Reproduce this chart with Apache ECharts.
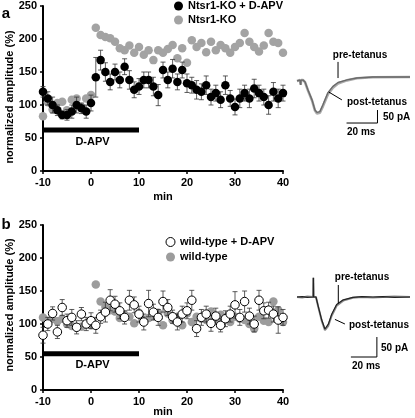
<!DOCTYPE html>
<html><head><meta charset="utf-8">
<script src="https://cdn.jsdelivr.net/npm/echarts@6/dist/echarts.min.js"></script>
<style>html,body{margin:0;padding:0;background:#fff}#c{width:415px;height:418px}</style>
</head><body><div id="c"></div>
<script>
// ---- time axis (min) ----
const minutes = [-10,-9,-8,-7,-6,-5,-4,-3,-2,-1,0,1,2,3,4,5,6,7,8,9,10,11,12,13,14,15,16,17,18,19,20,21,22,23,24,25,26,27,28,29,30,31,32,33,34,35,36,37,38,39,40];
const xTicks = [-10,0,10,20,30,40];
const yTicks = [0,50,100,150,200,250];

// ---- panel a ----
const koAPV = [120,110,100,92,85,85,90,100,95,90,103,
  142,168,150,135,150,138,158,138,123,128,
  138,138,128,115,153,138,155,135,153,133,
  130,123,120,130,112,118,108,130,110,97,
  110,118,110,125,118,112,100,120,110,118];
const koAPVErr = [8,10,12,8,6,8,10,12,8,10,12,
  30,15,14,12,12,12,12,14,12,12,
  12,12,14,16,12,12,14,12,12,14,
  12,14,12,14,12,12,12,14,12,12,
  14,12,14,14,12,12,14,14,14,12];
const ko = [83,104,93,103,105,92,108,110,97,110,115,
  217,206,203,201,196,186,183,190,179,188,
  176,183,168,183,179,185,191,171,186,164,
  198,188,194,180,196,183,191,186,179,188,
  194,209,196,188,181,190,209,196,194,179];

// ---- panel b ----
const wtAPV = [83,100,116,88,125,105,110,95,115,100,105,
  98,111,118,136,130,120,110,136,129,115,
  103,131,118,110,134,125,111,103,115,120,
  136,93,110,115,101,112,98,108,115,129,
  110,134,112,100,136,120,121,115,106,110];
const wtAPVErr = [12,10,10,10,12,10,12,10,10,10,12,
  12,10,15,16,12,12,10,15,12,12,
  12,20,12,12,16,12,10,12,12,12,
  15,12,12,12,12,12,10,12,12,20,
  12,16,12,12,15,12,12,12,20,12];
const wt = [110,105,108,104,108,100,97,95,96,100,98,
  160,134,126,121,119,109,114,111,101,117,
  106,109,112,117,98,116,106,111,98,116,
  103,111,108,106,119,106,114,110,103,111,
  108,106,100,93,111,105,103,134,121,103];

// D-APV application bar [min, %]
const apvA = [[-10,62],[10,62]];
const apvB = [[-10,55],[10,55]];

// ---- example traces (ms, pA) ----
const traceA_t    = [0,1.9,2.3,2.4,2.6,3.9,5.2,7.1,9.7,11.6,12.9,14.8,16.8,20,23.2,26.5,32.3,38.7,49,73];
const traceA_pre  = [-15,-12,-12,-30,-12,-12,-19,-50,-88,-127,-136,-133,-106,-60,-36,-21,-11,-4,0,0];
const traceA_post = [-15,-12,-12,-30,-12,-12,-20,-52,-90,-129,-140,-137,-112,-66,-41,-25,-13,-5,-1,0];
const traceB_t    = [0,4,8,12.5,12.6,12.8,13.0,14.6,16.4,19,21.5,24.1,26.7,30.5,35.6,43,50,58.5,66,75,87];
const traceB_pre  = [0,1,-1,0,48,0,-4,0,-24,-57,-80,-68,-43,-19,-7,-1,1,0,1,-1,0];
const traceB_post = [0,-1,1,0,48,0,-4,0,-25,-59,-83,-72,-47,-22,-9,-2,0,-1,0,1,0];
// scale bars: 20 ms, 50 pA
const scaleA = [[32,-177],[52,-177],[52,-127]];
const scaleB = [[41.5,-150],[61.5,-150],[61.5,-100]];
const preA = [[26.5,58],[26.5,-4]];
const postA = [[20.6,-58],[29,-88]];
const preB = [[31.8,30],[31.8,-16]];
const postB = [[29.2,-56],[36.9,-67.5]];

const FONT = "'Liberation Sans', Arial, sans-serif";
const txt = {color:'#000', fontFamily:FONT, fontWeight:'bold', fontSize:11};

const zip = (a) => minutes.map((m,i)=>[m,a[i]]);
const errData = (a,e) => minutes.map((m,i)=>[m,a[i]-e[i],a[i]+e[i]]);
const tr = (t,v) => t.map((x,i)=>[x,v[i]]);

function errSeries(xi, data){
  return {type:'custom', xAxisIndex:xi, yAxisIndex:xi, z:3, silent:true,
    encode:{x:0,y:[1,2]}, data,
    renderItem(params, api){
      const x=api.value(0), lo=api.value(1), hi=api.value(2);
      const p1=api.coord([x,hi]), p2=api.coord([x,lo]);
      const w=2.5, st={stroke:'#333',lineWidth:0.8};
      return {type:'group', children:[
        {type:'line', shape:{x1:p1[0],y1:p1[1],x2:p2[0],y2:p2[1]}, style:st},
        {type:'line', shape:{x1:p1[0]-w,y1:p1[1],x2:p1[0]+w,y2:p1[1]}, style:st},
        {type:'line', shape:{x1:p2[0]-w,y1:p2[1],x2:p2[0]+w,y2:p2[1]}, style:st}
      ]};
    }};
}
function mainX(gi){
  return {type:'value', gridIndex:gi, min:-10, max:40, interval:10,
    axisLine:{onZero:false, lineStyle:{color:'#000',width:2}}, axisTick:{length:3,lineStyle:{color:'#000',width:1.5}},
    axisLabel:Object.assign({margin:6}, txt), splitLine:{show:false}};
}
function mainY(gi){
  return {type:'value', gridIndex:gi, min:0, max:250, interval:50,
    axisLine:{show:true, onZero:false, lineStyle:{color:'#000',width:2}}, axisTick:{show:true,length:3,lineStyle:{color:'#000',width:1.5}},
    axisLabel:Object.assign({margin:6}, txt), splitLine:{show:false}};
}
function hidAx(gi,min,max){ return {type:'value', gridIndex:gi, min, max, show:false}; }
function lineS(gi, data, color, width, z){
  return {type:'line', xAxisIndex:gi, yAxisIndex:gi, data, showSymbol:false, symbol:'none',
    lineStyle:{color, width}, z: z||2, silent:true, animation:false};
}

const chart = echarts.init(document.getElementById('c'), null, {renderer:'canvas'});
chart.setOption({
  animation:false,
  backgroundColor:'#fff',
  grid:[
    {left:43, top:6, width:240, height:165, outerBoundsMode:'none'},
    {left:297, top:58.8, width:113, height:70.2, outerBoundsMode:'none'},
    {left:43, top:225, width:240, height:165, outerBoundsMode:'none'},
    {left:297, top:273, width:113, height:96, outerBoundsMode:'none'}
  ],
  xAxis:[mainX(0), hidAx(1,0,73), mainX(2), hidAx(3,0,87)],
  yAxis:[mainY(0), hidAx(1,-200,70), mainY(2), hidAx(3,-180,60)],
  legend:[
    {left:174, top:0, orient:'vertical', padding:0, itemWidth:9, itemHeight:9, itemGap:2, selectedMode:false,
     textStyle:Object.assign({lineHeight:12}, txt), data:['Ntsr1-KO + D-APV','Ntsr1-KO']},
    {left:165.5, top:236, orient:'vertical', padding:0, itemWidth:9, itemHeight:9, itemGap:3, selectedMode:false,
     itemStyle:{borderWidth:1},
     textStyle:Object.assign({lineHeight:12}, txt), data:['wild-type + D-APV','wild-type']}
  ],
  series:[
    // panel a
    {name:'Ntsr1-KO', type:'scatter', xAxisIndex:0, yAxisIndex:0, data:zip(ko), symbolSize:8.5, z:2,
     itemStyle:{color:'#a3a3a3', opacity:1}},
    errSeries(0, errData(koAPV, koAPVErr)),
    {name:'Ntsr1-KO + D-APV', type:'scatter', xAxisIndex:0, yAxisIndex:0, data:zip(koAPV), symbolSize:8.5, z:4,
     itemStyle:{color:'#000', opacity:1}},
    lineS(0, apvA, '#000', 5, 5),
    // panel a traces
    lineS(1, tr(traceA_t, traceA_post), '#aaaaaa', 2.6, 2),
    lineS(1, tr(traceA_t, traceA_pre), '#6a6a6a', 1.4, 3),
    lineS(1, scaleA, '#000', 1, 4),
    lineS(1, preA, '#000', 1, 4),
    lineS(1, postA, '#000', 1, 4),
    // panel b
    {name:'wild-type', type:'scatter', xAxisIndex:2, yAxisIndex:2, data:zip(wt), symbolSize:8.5, z:2,
     itemStyle:{color:'#9c9c9c', opacity:1}},
    errSeries(2, errData(wtAPV, wtAPVErr)),
    {name:'wild-type + D-APV', type:'scatter', xAxisIndex:2, yAxisIndex:2, data:zip(wtAPV), symbolSize:8.5, z:4,
     itemStyle:{color:'#fff', borderColor:'#000', borderWidth:1, opacity:1}},
    lineS(2, apvB, '#000', 5, 5),
    // panel b traces
    lineS(3, tr(traceB_t, traceB_post), '#8a8a8a', 2, 2),
    lineS(3, tr(traceB_t, traceB_pre), '#222', 1.2, 3),
    lineS(3, scaleB, '#000', 1, 4),
    lineS(3, preB, '#000', 1, 4),
    lineS(3, postB, '#000', 1, 4)
  ],
  graphic:[
    {type:'text', x:6, y:14, style:{text:'a', font:'bold 15px '+FONT, fill:'#000', textAlign:'center', textVerticalAlign:'middle'}},
    {type:'text', x:6, y:225, style:{text:'b', font:'bold 15px '+FONT, fill:'#000', textAlign:'center', textVerticalAlign:'middle'}},
    {type:'text', x:10, y:97, rotation:Math.PI/2, style:{text:'normalized amplitude (%)', font:'bold 11px '+FONT, fill:'#000', textAlign:'center', textVerticalAlign:'middle'}},
    {type:'text', x:10, y:305, rotation:Math.PI/2, style:{text:'normalized amplitude (%)', font:'bold 11px '+FONT, fill:'#000', textAlign:'center', textVerticalAlign:'middle'}},
    {type:'text', x:163, y:197, style:{text:'min', font:'bold 11px '+FONT, fill:'#000', textAlign:'center', textVerticalAlign:'middle'}},
    {type:'text', x:163, y:412, style:{text:'min', font:'bold 11px '+FONT, fill:'#000', textAlign:'center', textVerticalAlign:'middle'}},
    {type:'text', x:92.5, y:142, style:{text:'D-APV', font:'bold 11px '+FONT, fill:'#000', textAlign:'center', textVerticalAlign:'middle'}},
    {type:'text', x:92.5, y:365, style:{text:'D-APV', font:'bold 11px '+FONT, fill:'#000', textAlign:'center', textVerticalAlign:'middle'}},
    {type:'text', x:360, y:55, style:{text:'pre-tetanus', font:'bold 10px '+FONT, fill:'#000', textAlign:'center', textVerticalAlign:'middle'}},
    {type:'text', x:347, y:102, style:{text:'post-tetanus', font:'bold 10px '+FONT, fill:'#000', textAlign:'left', textVerticalAlign:'middle'}},
    {type:'text', x:383, y:117, style:{text:'50 pA', font:'bold 10px '+FONT, fill:'#000', textAlign:'left', textVerticalAlign:'middle'}},
    {type:'text', x:347, y:132, style:{text:'20 ms', font:'bold 10px '+FONT, fill:'#000', textAlign:'left', textVerticalAlign:'middle'}},
    {type:'text', x:362, y:277, style:{text:'pre-tetanus', font:'bold 10px '+FONT, fill:'#000', textAlign:'center', textVerticalAlign:'middle'}},
    {type:'text', x:349, y:325, style:{text:'post-tetanus', font:'bold 10px '+FONT, fill:'#000', textAlign:'left', textVerticalAlign:'middle'}},
    {type:'text', x:381, y:348, style:{text:'50 pA', font:'bold 10px '+FONT, fill:'#000', textAlign:'left', textVerticalAlign:'middle'}},
    {type:'text', x:352, y:366, style:{text:'20 ms', font:'bold 10px '+FONT, fill:'#000', textAlign:'left', textVerticalAlign:'middle'}}
  ]
});
</script></body></html>
